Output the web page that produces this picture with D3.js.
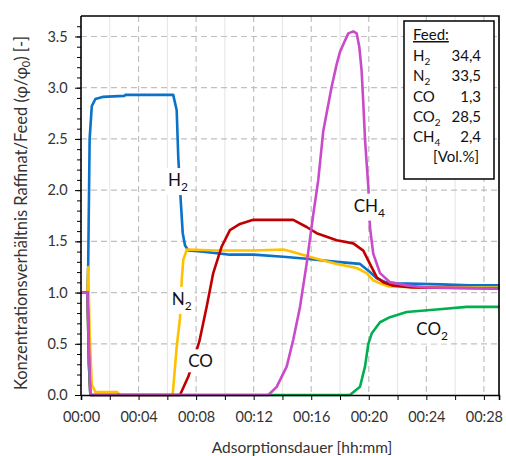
<!DOCTYPE html>
<meta charset="utf-8">
<style>
    body { margin: 0; background: #fff; }
    svg { font-family: Lato, "Open Sans", sans-serif; }
    .grid-major { stroke: #c0c0c0; stroke-width: 1.2px; stroke-dasharray: 6,4; }
    .grid-minor { stroke: #e4e4e4; stroke-width: 1px; }
    .line { fill: none; stroke-width: 2.6px; stroke-linejoin: round; }
    .axis path, .axis line { stroke: #000; }
    .axis text { font-size: 14.5px; fill: #333; font-family: Lato, "Open Sans", sans-serif; }
</style>
<body>
<script src="https://d3js.org/d3.v7.min.js"></script>
<script>
    // time in minutes, value = ratio raffinat / feed
    var h2 = [[0,1.0],[0.45,1.0],[0.5,1.27],[0.6,2.5],[0.75,2.82],[1.0,2.89],[1.5,2.91],[3.0,2.92],[3.1,2.93],[6.41,2.93],
        [6.65,2.78],[6.76,2.32],[6.93,1.90],[7.07,1.58],[7.23,1.46],[7.46,1.41],[8.5,1.40],[10.35,1.37],[12.0,1.37],
        [14.06,1.35],[15.68,1.33],[17.77,1.30],[19.39,1.28],[20.08,1.20],[20.55,1.14],[21.2,1.10],[21.94,1.09],
        [25.0,1.08],[27.0,1.07],[29.1,1.07]];
    var n2 = [[0,1.0],[0.45,1.0],[0.5,1.25],[0.6,0.6],[0.75,0.1],[1.0,0.03],[2.5,0.03],[2.7,0.0],[6.37,0.0],
        [6.65,0.47],[6.88,0.75],[7.0,1.12],[7.11,1.32],[7.35,1.42],[9.43,1.41],[12.0,1.41],[14.06,1.42],[14.6,1.40],
        [16.38,1.33],[17.77,1.28],[19.16,1.24],[19.85,1.19],[20.31,1.12],[20.78,1.09],[21.4,1.06],[23.8,1.05],[29.1,1.05]];
    var co = [[0,1.0],[0.45,1.0],[0.55,0.3],[0.65,0.0],[6.88,0.0],[7.46,0.18],[8.22,0.52],[8.73,0.86],[9.19,1.19],
        [9.78,1.45],[10.35,1.61],[11.05,1.67],[11.97,1.71],[14.75,1.71],[15.68,1.64],[16.38,1.58],[17.77,1.51],
        [18.92,1.48],[19.62,1.41],[20.08,1.28],[20.55,1.15],[21.0,1.10],[21.6,1.07],[23.0,1.05],[29.1,1.04]];
    var co2 = [[0,1.0],[0.45,1.0],[0.55,0.3],[0.65,0.0],[18.69,0.0],[19.39,0.08],[19.74,0.28],[19.97,0.50],
        [20.2,0.60],[20.78,0.71],[21.47,0.76],[22.63,0.81],[24.71,0.835],[26.8,0.86],[29.1,0.86]];
    var ch4 = [[0,1.0],[0.45,1.0],[0.55,0.5],[0.65,0.0],[13.02,0.0],[13.6,0.08],[14.3,0.28],[14.75,0.54],[15.22,0.86],
        [15.68,1.28],[16.15,1.77],[16.49,2.10],[16.84,2.58],[17.42,3.01],[17.77,3.23],[18.0,3.35],[18.35,3.46],
        [18.58,3.53],[18.92,3.55],[19.16,3.53],[19.34,3.40],[19.5,3.17],[19.62,2.85],[19.74,2.49],[19.97,2.03],
        [20.08,1.64],[20.31,1.38],[20.78,1.19],[21.47,1.10],[22.63,1.07],[24.0,1.05],[29.1,1.04]];

    var seriesColors = ["#0a72c8", "#ffc000", "#c00000", "#00b050", "#c94bc9"];
    var seriesData = [h2, n2, co, co2, ch4];

    var feedGas = ["H", "N", "CO", "CO", "CH"];
    var feedSub = ["2", "2", "", "2", "4"];
    var feedVal = ["34,4", "33,5", "1,3", "28,5", "2,4"];

    var xTicks = [0, 4, 8, 12, 16, 20, 24, 28];
    var yTicks = [0, 0.5, 1.0, 1.5, 2.0, 2.5, 3.0, 3.5];

    // set the dimensions and margins of the graph
    var margin = { top: 16, right: 7, bottom: 61, left: 81 },
        width = 506 - margin.left - margin.right,
        height = 456 - margin.top - margin.bottom;

    var x = d3.scaleLinear().domain([0, 29.05]).range([0, width]);
    var y = d3.scaleLinear().domain([0, 3.7]).range([height, 0]);

    var svgRoot = d3.select("body").append("svg")
        .attr("width", 506)
        .attr("height", 456);
    var svg = svgRoot.append("g")
        .attr("transform", "translate(" + margin.left + "," + margin.top + ")");

    // minor vertical grid (every odd 2 min)
    svg.selectAll(".gm").data(d3.range(2, 29, 4)).enter().append("line")
        .attr("class", "grid-minor")
        .attr("x1", x).attr("x2", x).attr("y1", 0).attr("y2", height);
    // major dashed grid
    svg.selectAll(".gx").data(xTicks.slice(1)).enter().append("line")
        .attr("class", "grid-major")
        .attr("x1", x).attr("x2", x).attr("y1", 0).attr("y2", height);
    svg.selectAll(".gy").data(yTicks.slice(1)).enter().append("line")
        .attr("class", "grid-major")
        .attr("x1", 0).attr("x2", width).attr("y1", y).attr("y2", y);

    // lines
    var line = d3.line()
        .x(function (d) { return x(d[0]); })
        .y(function (d) { return y(d[1]); });
    seriesData.forEach(function (s, i) {
        svg.append("path")
            .datum(s)
            .attr("class", "line")
            .style("stroke", seriesColors[i])
            .attr("d", line);
    });

    // in-plot labels with white background
    var labels = [
        { base: "H", sub: "2", t: 6.05, v: 2.04 },
        { base: "N", sub: "2", t: 6.3, v: 0.88 },
        { base: "CO", sub: "", t: 7.45, v: 0.27 },
        { base: "CH", sub: "4", t: 18.95, v: 1.79 },
        { base: "CO", sub: "2", t: 23.3, v: 0.59 }
    ];
    labels.forEach(function (l) {
        var g = svg.append("g").attr("transform", "translate(" + x(l.t) + "," + y(l.v) + ")");
        var t = g.append("text").attr("font-size", "17px").attr("fill", "#111");
        t.append("tspan").text(l.base);
        if (l.sub) t.append("tspan").attr("font-size", "12px").attr("dy", 5).text(l.sub);
        var bb = t.node().getBBox();
        g.insert("rect", "text")
            .attr("x", bb.x - 3).attr("y", bb.y - 1)
            .attr("width", bb.width + 6).attr("height", bb.height + 2)
            .attr("fill", "#fff");
    });

    // X axis
    svg.append("g")
        .attr("class", "axis")
        .attr("transform", "translate(0," + height + ")")
        .call(d3.axisBottom(x).tickValues(d3.range(0, 29, 2)).tickSize(5)
            .tickFormat(function (d) { return d % 4 === 0 ? "00:" + d3.format("02")(d) : ""; }))
        .call(function (g) { g.select(".domain").attr("stroke-width", 1.6); })
        .selectAll("text").attr("dy", "1.3em");

    // Y axis: minor then major
    svg.append("g")
        .attr("class", "axis")
        .call(d3.axisLeft(y).tickValues(d3.range(0, 3.65, 0.1)).tickSize(4).tickFormat(""))
        .call(function (g) { g.select(".domain").remove(); });
    svg.append("g")
        .attr("class", "axis")
        .call(d3.axisLeft(y).tickValues(yTicks).tickSize(6).tickFormat(d3.format(".1f")))
        .call(function (g) { g.select(".domain").attr("d", "M0," + height + "V0").attr("stroke-width", 1.6); })
        .selectAll("text").attr("dx", "-0.3em");

    // frame top / right
    svg.append("path")
        .attr("d", "M0,0H" + width + "V" + height)
        .attr("fill", "none").attr("stroke", "#000").attr("stroke-width", 1.6);

    // axis titles
    svgRoot.append("text")
        .attr("x", 302).attr("y", 453)
        .attr("text-anchor", "middle")
        .attr("font-size", "15.5px").attr("fill", "#333")
        .text("Adsorptionsdauer [hh:mm]");
    var yt = svgRoot.append("text")
        .attr("transform", "translate(27,213) rotate(-90)")
        .attr("text-anchor", "middle")
        .attr("font-size", "16.5px").attr("fill", "#333");
    yt.append("tspan").text("Konzentrationsverhältnis Raffinat/Feed (φ/φ");
    yt.append("tspan").attr("font-size", "11px").attr("dy", 3).text("0");
    yt.append("tspan").attr("dy", -3).text(") [-]");

    // feed legend box
    var lg = svgRoot.append("g");
    lg.append("rect")
        .attr("x", 404).attr("y", 21).attr("width", 90).attr("height", 158)
        .attr("fill", "#fff").attr("stroke", "#000").attr("stroke-width", 1.5);
    lg.append("text").attr("x", 413).attr("y", 40)
        .attr("font-size", "15px").attr("fill", "#111")
        .attr("text-decoration", "underline").text("Feed:");
    feedGas.forEach(function (gname, i) {
        var yy = 61 + i * 20.3;
        var t = lg.append("text").attr("x", 413).attr("y", yy)
            .attr("font-size", "15px").attr("fill", "#111");
        t.append("tspan").text(gname);
        if (feedSub[i]) t.append("tspan").attr("font-size", "10px").attr("dy", 4).text(feedSub[i]);
        lg.append("text").attr("x", 481).attr("y", yy)
            .attr("text-anchor", "end")
            .attr("font-size", "15px").attr("fill", "#111").text(feedVal[i]);
    });
    lg.append("text").attr("x", 479).attr("y", 162)
        .attr("text-anchor", "end")
        .attr("font-size", "15px").attr("fill", "#111").text("[Vol.%]");
</script>
</body>
